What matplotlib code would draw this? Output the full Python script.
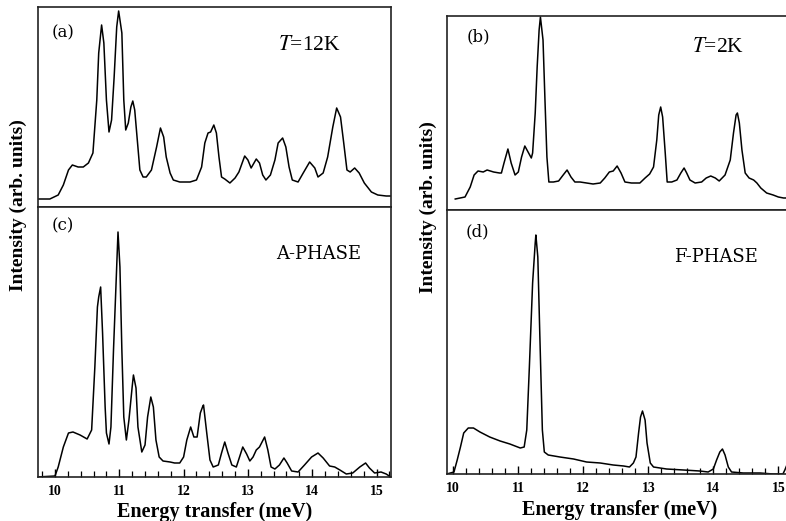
import matplotlib
matplotlib.use("Agg")
import matplotlib.pyplot as plt
from matplotlib.ticker import MultipleLocator

plt.rcParams['font.family'] = ['Liberation Serif', 'DejaVu Serif']
plt.rcParams['mathtext.fontset'] = 'stix'

# ---------------- data (energy in meV, intensity in arb. units) ----------------
E_a = [9.74, 9.92, 10.05, 10.13, 10.21, 10.27, 10.36, 10.44, 10.52, 10.59, 10.65, 10.68, 10.725,
       10.76, 10.80, 10.84, 10.88, 10.92, 10.96, 10.99, 11.04, 11.07, 11.10, 11.14, 11.18, 11.21,
       11.24, 11.28, 11.32, 11.37, 11.42, 11.50, 11.58, 11.64, 11.69, 11.73, 11.79, 11.84, 11.94,
       12.10, 12.20, 12.28, 12.33, 12.38, 12.42, 12.47, 12.51, 12.55, 12.59, 12.64, 12.72, 12.80,
       12.86, 12.95, 13.00, 13.05, 13.13, 13.18, 13.23, 13.28, 13.35, 13.42, 13.47, 13.54, 13.59,
       13.64, 13.69, 13.78, 13.86, 13.96, 14.04, 14.09, 14.17, 14.24, 14.32, 14.38, 14.44, 14.49,
       14.54, 14.59, 14.66, 14.73, 14.81, 14.92, 15.02, 15.15, 15.22]
I_a = [8, 8, 12, 22, 37, 42, 40, 40, 44, 54, 107, 154, 182,
       164, 107, 75, 87, 130, 180, 196, 174, 107, 77, 84, 100, 106,
       97, 67, 37, 30, 30, 37, 60, 79, 70, 50, 34, 27, 25,
       25, 27, 40, 64, 74, 75, 82, 74, 50, 30, 28, 24, 29,
       35, 51, 47, 39, 48, 44, 32, 27, 32, 47, 64, 69, 60,
       40, 27, 25, 34, 45, 39, 30, 34, 50, 80, 99, 90, 64,
       37, 35, 39, 34, 24, 15, 12, 11, 11]

E_c = [9.72, 10.00, 10.05, 10.13, 10.21, 10.28, 10.39, 10.50, 10.57, 10.62, 10.66, 10.68, 10.71,
       10.74, 10.78, 10.80, 10.84, 10.87, 10.91, 10.95, 10.98, 11.01, 11.04, 11.07, 11.11, 11.15,
       11.20, 11.22, 11.26, 11.29, 11.35, 11.40, 11.44, 11.49, 11.53, 11.57, 11.62, 11.68, 11.79,
       11.86, 11.94, 12.00, 12.05, 12.11, 12.16, 12.21, 12.26, 12.30, 12.31, 12.36, 12.41, 12.46,
       12.54, 12.59, 12.64, 12.69, 12.75, 12.82, 12.87, 12.92, 12.98, 13.03, 13.08, 13.13, 13.18,
       13.26, 13.31, 13.36, 13.42, 13.49, 13.56, 13.61, 13.68, 13.78, 13.88, 13.99, 14.09, 14.17,
       14.27, 14.35, 14.43, 14.53, 14.63, 14.74, 14.83, 14.89, 14.97, 15.07, 15.15, 15.22]
I_c = [0, 1, 10, 30, 44, 45, 42, 38, 47, 110, 170, 180, 190,
       144, 70, 44, 33, 50, 127, 194, 245, 210, 127, 60, 37, 57,
       90, 102, 89, 50, 25, 32, 60, 80, 70, 37, 20, 16, 15,
       14, 14, 20, 37, 50, 40, 40, 64, 71, 72, 44, 17, 10,
       12, 24, 35, 24, 12, 10, 20, 30, 23, 16, 20, 27, 30,
       40, 27, 10, 8, 12, 19, 14, 6, 5, 12, 20, 24, 19,
       11, 10, 7, 3, 4, 10, 14, 9, 4, 5, 3, 0]

E_b = [10.03, 10.18, 10.26, 10.32, 10.38, 10.46, 10.52, 10.62, 10.71, 10.74, 10.78, 10.84, 10.89,
       10.95, 11.00, 11.05, 11.10, 11.15, 11.20, 11.22, 11.26, 11.29, 11.32, 11.34, 11.38, 11.41,
       11.44, 11.47, 11.54, 11.62, 11.69, 11.75, 11.81, 11.87, 11.95, 12.05, 12.15, 12.26, 12.33,
       12.40, 12.46, 12.52, 12.58, 12.64, 12.74, 12.87, 12.95, 13.02, 13.08, 13.13, 13.16, 13.19,
       13.22, 13.26, 13.29, 13.36, 13.44, 13.50, 13.55, 13.59, 13.64, 13.72, 13.82, 13.89, 13.96,
       14.03, 14.09, 14.18, 14.26, 14.31, 14.35, 14.37, 14.40, 14.44, 14.49, 14.55, 14.62, 14.67,
       14.73, 14.82, 14.92, 15.00, 15.08, 15.15]
I_b = [11, 13, 23, 35, 39, 38, 40, 38, 37, 37, 47, 61, 47,
       35, 38, 53, 64, 58, 52, 57, 97, 143, 180, 193, 170, 110,
       53, 28, 28, 29, 35, 40, 33, 28, 28, 27, 26, 27, 32,
       38, 39, 44, 37, 28, 27, 27, 32, 36, 43, 70, 95, 103,
       93, 57, 28, 28, 30, 37, 42, 37, 30, 27, 28, 32, 34,
       32, 29, 35, 50, 77, 95, 97, 87, 60, 37, 32, 30, 27,
       22, 17, 15, 13, 12, 12]

E_d = [9.90, 10.01, 10.06, 10.11, 10.16, 10.23, 10.31, 10.41, 10.56, 10.72, 10.87, 11.03, 11.09,
       11.13, 11.17, 11.22, 11.26, 11.27, 11.30, 11.33, 11.37, 11.40, 11.46, 11.64, 11.85, 12.05,
       12.26, 12.46, 12.62, 12.71, 12.77, 12.81, 12.85, 12.88, 12.91, 12.95, 12.98, 13.03, 13.08,
       13.28, 13.54, 13.79, 13.92, 14.00, 14.05, 14.10, 14.14, 14.18, 14.23, 14.28, 14.46, 14.72,
       14.92, 15.07, 15.10, 15.15]
I_d = [0, 2, 14, 27, 41, 46, 46, 42, 37, 33, 30, 26, 27,
       44, 107, 191, 231, 239, 217, 141, 44, 22, 19, 17, 15, 12,
       11, 9, 8, 7, 11, 17, 41, 57, 63, 54, 31, 11, 7,
       5, 4, 3, 2, 5, 14, 22, 25, 19, 7, 2, 1, 1,
       0, 0, 4, 12]

tick_values = [10, 11, 12, 13, 14, 15]
tick_labels = ['10', '11', '12', '13', '14', '15']
panel_tags = ['(a)', '(b)', '(c)', '(d)']
panel_notes = [r'$T$=12K', r'$T$=2K', 'A-PHASE', 'F-PHASE']
xlabel = 'Energy transfer (meV)'
ylabel = 'Intensity (arb. units)'

# ---------------- figure ----------------
W, H = 786, 521
fig = plt.figure(figsize=(W / 100, H / 100), dpi=100)


def box(x0, y0, x1, y1):
    return [x0 / W, 1 - y1 / H, (x1 - x0) / W, (y1 - y0) / H]


ax_a = fig.add_axes(box(38, 7, 391, 207))
ax_c = fig.add_axes(box(38, 207, 391, 477))
ax_b = fig.add_axes(box(447, 16, 792, 210))
ax_d = fig.add_axes(box(447, 210, 792, 474))

specs = [
    (ax_a, E_a, I_a, (9.736, 15.225), 200),
    (ax_b, E_b, I_b, (9.903, 15.21), 194),
    (ax_c, E_c, I_c, (9.736, 15.225), 270),
    (ax_d, E_d, I_d, (9.903, 15.21), 264),
]

for ax, E, I, xl, ytop in specs:
    ax.plot(E, I, color='black', lw=1.1)
    ax.set_xlim(*xl)
    ax.set_ylim(0, ytop)
    ax.set_yticks([])
    for s in ax.spines.values():
        s.set_linewidth(1.2)
        s.set_color('#222222')

for ax in (ax_a, ax_b):
    ax.set_xticks([])

for ax in (ax_c, ax_d):
    ax.set_xticks(tick_values)
    ax.set_xticklabels(tick_labels, fontsize=10, fontweight='bold')
    ax.xaxis.set_minor_locator(MultipleLocator(0.2))
    ax.tick_params(axis='x', which='major', direction='in', length=6, width=1.0, pad=6)
    ax.tick_params(axis='x', which='minor', direction='in', length=4, width=0.9)
    ax.set_xlabel(xlabel, fontsize=14.5, fontweight='bold', labelpad=3)


def ftext(x, y, s, **kw):
    fig.text(x / W, 1 - y / H, s, ha='center', va='center', **kw)


tag_font = dict(family=['DejaVu Serif'], fontsize=12)
note_font = dict(family=['DejaVu Serif'], fontsize=13)
ftext(63, 33, panel_tags[0], **tag_font)
ftext(478, 37, panel_tags[1], **tag_font)
ftext(63, 226, panel_tags[2], **tag_font)
ftext(477, 232, panel_tags[3], **tag_font)
ftext(309, 45, panel_notes[0], fontsize=15.5)
ftext(718, 47, panel_notes[1], fontsize=15.5)
ftext(319, 254, panel_notes[2], **note_font)
ftext(716, 257, panel_notes[3], **note_font)

ftext(18, 205, ylabel, rotation=90, fontsize=14, fontweight='bold')
ftext(428, 207, ylabel, rotation=90, fontsize=14, fontweight='bold')

fig.savefig('out.png', dpi=100)
